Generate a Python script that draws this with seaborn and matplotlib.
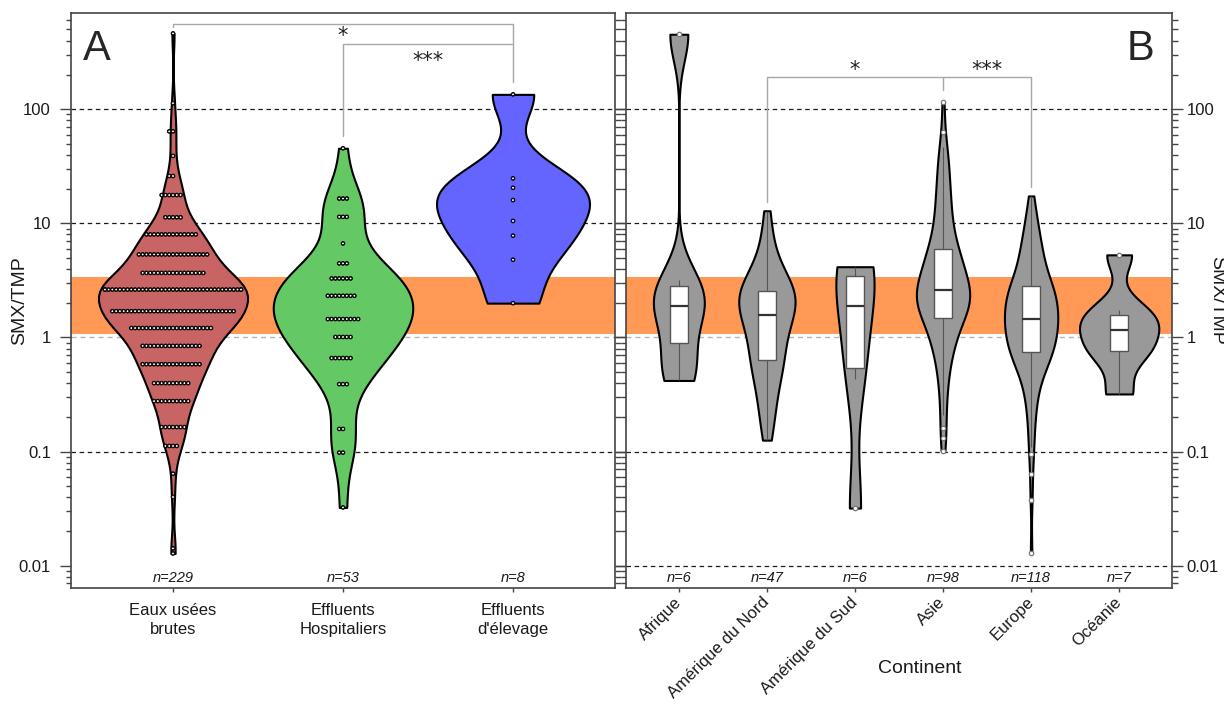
import numpy as np
import pandas as pd
import matplotlib
matplotlib.use("Agg")
import matplotlib.pyplot as plt
import matplotlib.ticker as mticker
import matplotlib.patheffects as pe
import seaborn as sns

# Rapport SMX/TMP : (A) par type d'effluent, (B) par continent

# --- Panel A : niveau de chaque rangée de points et nombre de points ---
types_effluent = ["Eaux usées\nbrutes", "Effluents\nHospitaliers", "Effluents\nd'élevage"]
couleurs_effluent = ["#C86464", "#64C864", "#6464FF"]

eaux_niveaux = [462, 113, 64, 39, 26, 17.7, 11.3, 8.0, 5.34, 3.68, 2.63, 1.70, 1.21,
                0.844, 0.583, 0.398, 0.277, 0.164, 0.112, 0.064, 0.040, 0.0142, 0.0128]
eaux_effectifs = [1, 1, 2, 1, 2, 6, 5, 14, 19, 17, 39, 33, 22,
                  16, 16, 10, 10, 7, 4, 1, 1, 1, 1]

hosp_niveaux = [45.5, 16.5, 11.4, 6.67, 4.46, 3.29, 2.32, 1.45, 1.01, 0.66, 0.39, 0.158, 0.098, 0.0324]
hosp_effectifs = [1, 3, 3, 1, 3, 6, 8, 9, 5, 6, 3, 2, 2, 1]

elevage = [135, 24.8, 20.5, 16.0, 10.5, 7.8, 4.8, 2.0]

# --- Panel B : valeurs par continent ---
continents = ["Afrique", "Amérique du Nord", "Amérique du Sud", "Asie", "Europe", "Océanie"]

afrique = [0.42, 0.71, 1.82, 1.94, 3.19, 454]
amerique_nord = [0.126, 0.158, 0.20, 0.24, 0.28, 0.33, 0.38, 0.44, 0.49, 0.54,
                 0.59, 0.63, 0.65, 0.71, 0.79, 0.87, 0.95, 1.05, 1.15, 1.23,
                 1.32, 1.41, 1.48, 1.57, 1.66, 1.78, 1.86, 1.95, 2.04, 2.14,
                 2.24, 2.34, 2.40, 2.45, 2.51, 2.58, 2.69, 2.88, 3.09, 3.31,
                 3.63, 3.98, 4.57, 5.37, 6.61, 8.91, 12.9]
amerique_sud = [0.032, 0.436, 1.02, 3.45, 3.47, 4.17]
asie = [0.102, 0.132, 0.162, 0.21, 0.27, 0.33, 0.39, 0.45, 0.52, 0.58,
        0.64, 0.70, 0.76, 0.82, 0.88, 0.93, 0.98, 1.03, 1.08, 1.13,
        1.18, 1.24, 1.30, 1.36, 1.45, 1.53, 1.58, 1.62, 1.66, 1.70,
        1.74, 1.78, 1.82, 1.86, 1.90, 1.95, 2.0, 2.05, 2.1, 2.15,
        2.2, 2.25, 2.3, 2.35, 2.4, 2.45, 2.5, 2.54, 2.58, 2.62,
        2.7, 2.8, 2.9, 3.0, 3.1, 3.2, 3.3, 3.4, 3.5, 3.6,
        3.7, 3.85, 4.0, 4.15, 4.3, 4.45, 4.6, 4.8, 5.0, 5.2,
        5.4, 5.6, 5.8, 6.0, 6.4, 6.8, 7.3, 7.8, 8.4, 9.0,
        9.7, 10.5, 11.5, 12.5, 13.7, 15, 16.5, 18, 20, 22,
        25, 28, 32, 36, 40, 47, 63, 115]
europe = [0.0129, 0.038, 0.063, 0.096, 0.11, 0.14, 0.17, 0.20, 0.23, 0.26,
          0.29, 0.32, 0.35, 0.38, 0.41, 0.44, 0.47, 0.50, 0.52, 0.54,
          0.56, 0.58, 0.60, 0.62, 0.64, 0.66, 0.68, 0.70, 0.72, 0.74,
          0.76, 0.78, 0.80, 0.82, 0.84, 0.86, 0.88, 0.90, 0.92, 0.94,
          0.96, 0.98, 1.0, 1.03, 1.06, 1.09, 1.12, 1.15, 1.18, 1.21,
          1.24, 1.27, 1.30, 1.32, 1.34, 1.36, 1.38, 1.40, 1.42, 1.46,
          1.50, 1.54, 1.58, 1.62, 1.66, 1.70, 1.74, 1.78, 1.82, 1.86,
          1.90, 1.95, 2.0, 2.05, 2.1, 2.15, 2.2, 2.25, 2.3, 2.35,
          2.4, 2.45, 2.5, 2.55, 2.6, 2.65, 2.7, 2.78, 2.85, 2.95,
          3.05, 3.15, 3.25, 3.4, 3.55, 3.7, 3.85, 4.0, 4.2, 4.4,
          4.6, 4.8, 5.0, 5.3, 5.6, 5.9, 6.2, 6.6, 7.0, 7.5,
          8.0, 8.6, 9.3, 10.2, 11.3, 12.7, 14.8, 17.4]
oceanie = [0.32, 0.69, 0.84, 1.17, 1.45, 1.74, 5.3]

bande = (1.08, 3.4)          # zone orange

# ---------------------------------------------------------------------------
sns.set_theme(style="white")
plt.rcParams["font.family"] = ["Liberation Sans", "DejaVu Sans"]

df_a = pd.DataFrame({
    "type": np.concatenate([np.repeat(types_effluent[0], sum(eaux_effectifs)),
                            np.repeat(types_effluent[1], sum(hosp_effectifs)),
                            np.repeat(types_effluent[2], len(elevage))]),
    "ratio": np.concatenate([np.repeat(eaux_niveaux, eaux_effectifs),
                             np.repeat(hosp_niveaux, hosp_effectifs),
                             elevage]),
})
valeurs_b = [afrique, amerique_nord, amerique_sud, asie, europe, oceanie]
df_b = pd.DataFrame({
    "continent": np.concatenate([[c] * len(v) for c, v in zip(continents, valeurs_b)]),
    "ratio": np.concatenate(valeurs_b),
})


def bw_nrd0(kde):
    # largeur de bande façon R (bw.nrd0), sur les log10
    x = kde.dataset[0]
    sd = x.std(ddof=1)
    q1, q3 = np.percentile(x, [25, 75])
    lo = min(sd, (q3 - q1) / 1.34)
    return 0.9 * lo * len(x) ** -0.2 / sd


W, H = 1224, 706
fig = plt.figure(figsize=(W / 100, H / 100), dpi=100)
axA = fig.add_axes([71 / W, 1 - 588.3 / H, 544 / W, 575 / H])
axB = fig.add_axes([626 / W, 1 - 588.3 / H, 546 / W, 575 / H])

sns.violinplot(data=df_a, x="type", y="ratio", hue="type", order=types_effluent,
               palette=dict(zip(types_effluent, couleurs_effluent)), saturation=1,
               inner=None, cut=0, density_norm="area", common_norm=True, width=0.9,
               bw_method=bw_nrd0, linewidth=1.5, linecolor="black", log_scale=True,
               legend=False, ax=axA)
n_avant = len(axA.collections)
sns.swarmplot(data=df_a, x="type", y="ratio", order=types_effluent, color="white",
              edgecolor="black", linewidth=0.6, size=2.0, log_scale=True,
              zorder=3, ax=axA)
# contour noir plus épais autour des points (sans changer l'espacement)
for coll in axA.collections[n_avant:]:
    coll.set_path_effects([pe.Stroke(linewidth=1.35, foreground="black"), pe.Normal()])

sns.violinplot(data=df_b, x="continent", y="ratio", order=continents, color="#999999",
               saturation=1, inner=None, cut=0, density_norm="area", common_norm=True,
               width=0.9, bw_method=bw_nrd0, linewidth=1.5, linecolor="black",
               log_scale=True, ax=axB)
sns.boxplot(data=df_b, x="continent", y="ratio", order=continents, color="white",
            saturation=1, width=0.2, whis=1.5, showcaps=False, linecolor="#555555",
            linewidth=1.0, log_scale=True,
            medianprops=dict(color="#333333", linewidth=1.6),
            whiskerprops=dict(color="#555555", linewidth=0.8),
            flierprops=dict(marker="o", markersize=3.2, markerfacecolor="white",
                            markeredgecolor="#777777", markeredgewidth=0.9),
            ax=axB)

dash = (0, (3.6, 2.9))
for ax, lignes in ((axA, [0.1, 10, 100]), (axB, [0.01, 0.1, 10, 100])):
    ax.axhspan(*bande, color="#FF9955", lw=0, zorder=0)
    ax.axhline(1, color="#b5b5b5", ls=dash, lw=1.0, zorder=0.5)
    for y in lignes:
        ax.axhline(y, color="#1a1a1a", ls=dash, lw=0.9, zorder=0.5)
    ax.set_yscale("log")
    ax.set_ylim(0.00634, 693)
    ax.set_xlim(-0.6, len(ax.get_xticks()) - 0.4)
    ax.yaxis.set_major_locator(mticker.FixedLocator([0.01, 0.1, 1, 10, 100]))
    ax.yaxis.set_major_formatter(mticker.FuncFormatter(lambda v, _: f"{v:g}"))
    ax.yaxis.set_minor_locator(mticker.LogLocator(base=10, subs=np.arange(2, 10), numticks=30))
    ax.yaxis.set_minor_formatter(mticker.NullFormatter())
    for s in ax.spines.values():
        s.set_color("#444444")
        s.set_linewidth(1.2)
    ax.tick_params(axis="y", which="major", length=7.9, width=1.0, color="#444444",
                   direction="out", left=True, right=True, labelsize=12, labelcolor="#1a1a1a")
    ax.tick_params(axis="y", which="minor", length=3.96, width=1.0, color="#444444",
                   direction="out", left=True, right=True)
    ax.tick_params(axis="x", which="major", length=2.9, width=1.0, color="#444444",
                   direction="out", bottom=True, labelsize=12, labelcolor="#1a1a1a")
    ax.grid(False)

axA.tick_params(axis="y", labelleft=True, labelright=False, pad=6.5)
axA.tick_params(axis="x", pad=8)
axB.tick_params(axis="y", labelleft=False, labelright=True, pad=2.5)
axB.tick_params(axis="x", pad=5.5)
for lab in axA.get_xticklabels():
    lab.set_linespacing(1.3)

axA.set_xlabel("")
axA.set_ylabel("SMX/TMP", fontsize=14, color="#1a1a1a")
axA.yaxis.set_label_coords(-0.078, 0.5)

axB.set_xlabel("Continent", fontsize=14, color="#1a1a1a")
axB.xaxis.set_label_coords(0.5375, -0.125)
axB.yaxis.set_label_position("right")
axB.set_ylabel("SMX/TMP", fontsize=14, color="#1a1a1a", rotation=-90,
               va="bottom", rotation_mode="anchor")
axB.yaxis.set_label_coords(1.067, 0.5)
for lab in axB.get_xticklabels():
    lab.set_rotation(45)
    lab.set_ha("right")
    lab.set_va("center")
    lab.set_rotation_mode("anchor")

# effectifs
for ax, col, ordre, df in ((axA, "type", types_effluent, df_a), (axB, "continent", continents, df_b)):
    comptes = df[col].value_counts()
    for i, g in enumerate(ordre):
        ax.text(i, 0.0078, f"n={comptes[g]}", ha="center", va="center",
                fontsize=10.5, style="italic", color="#1a1a1a")

# crochets de significativité
gris = "#a8a8a8"
axA.plot([0, 0, 2, 2], [524, 560, 560, 175], color=gris, lw=1.0)
axA.plot([1, 1, 2], [58, 376, 376], color=gris, lw=1.0)
axA.text(1, 441, "*", ha="center", va="center", fontsize=15, color="#222222",
         family="DejaVu Sans")
axA.text(1.5, 265, "***", ha="center", va="center", fontsize=15, color="#222222",
         family="DejaVu Sans")
axB.plot([1, 1, 3, 3], [15.5, 193, 193, 146], color=gris, lw=1.0)
axB.plot([3, 4, 4], [193, 193, 21], color=gris, lw=1.0)
axB.text(2, 219, "*", ha="center", va="center", fontsize=15, color="#222222",
         family="DejaVu Sans")
axB.text(3.5, 219, "***", ha="center", va="center", fontsize=15, color="#222222",
         family="DejaVu Sans")

axA.text(0.022, 0.9188, "A", transform=axA.transAxes, fontsize=30, ha="left", va="baseline")
axB.text(0.967, 0.9188, "B", transform=axB.transAxes, fontsize=30, ha="right", va="baseline")

fig.savefig("out.png", dpi=100)
